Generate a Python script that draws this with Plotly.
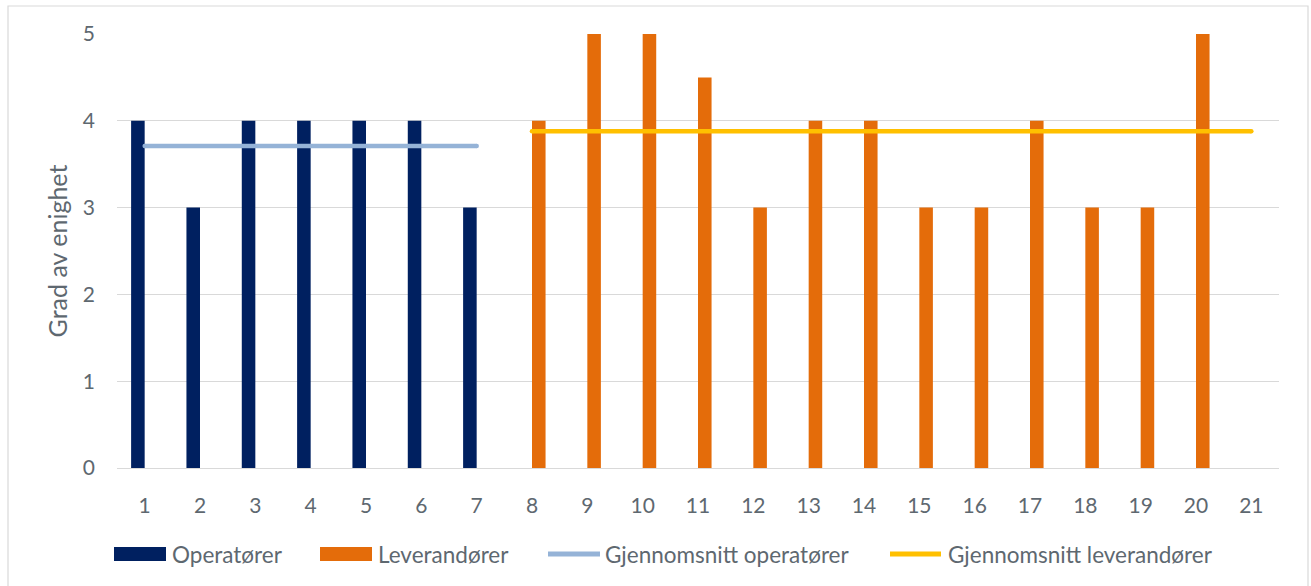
import plotly.graph_objects as go

# Categories (respondent numbers) and scores
categories = list(range(1, 22))
operator_ids = [1, 2, 3, 4, 5, 6, 7]
operator_scores = [4, 3, 4, 4, 4, 4, 3]
supplier_ids = [8, 9, 10, 11, 12, 13, 14, 15, 16, 17, 18, 19, 20]
supplier_scores = [4, 5, 5, 4.5, 3, 4, 4, 3, 3, 4, 3, 3, 5]

# Average lines
avg_operator_ids = [1, 7]
avg_operator = 3.71
avg_supplier_ids = [8, 21]
avg_supplier = 3.88

y_ticks = [0, 1, 2, 3, 4, 5]

NAVY = "#002060"
ORANGE = "#E46C0A"
LIGHTBLUE = "#95B3D7"
YELLOW = "#FFC000"
GRID = "#D9D9D9"
TEXT = "#5E6870"
FONT = "Lato"

W, H = 1311, 586
ML, MR, MT, MB = 117, 32, 34, 118
PW, PH = W - ML - MR, H - MT - MB

# each category holds two bar slots (operators left, suppliers right)
BAR_W = 0.245


def px_x(px):
    return (px - ML) / PW


def px_y(py):
    return (H - MB - py) / PH


fig = go.Figure()
fig.add_trace(go.Bar(x=operator_ids, y=operator_scores, name="Operatører",
                     width=BAR_W, offset=-BAR_W,
                     marker=dict(color=NAVY, line=dict(width=0)), showlegend=False))
fig.add_trace(go.Bar(x=supplier_ids, y=supplier_scores, name="Leverandører",
                     width=BAR_W, offset=0,
                     marker=dict(color=ORANGE, line=dict(width=0)), showlegend=False))
fig.add_trace(go.Scatter(x=avg_operator_ids, y=[avg_operator] * len(avg_operator_ids),
                         mode="lines+markers", name="Gjennomsnitt operatører",
                         line=dict(color=LIGHTBLUE, width=4.5),
                         marker=dict(color=LIGHTBLUE, size=4.5), showlegend=False))
fig.add_trace(go.Scatter(x=avg_supplier_ids, y=[avg_supplier] * len(avg_supplier_ids),
                         mode="lines+markers", name="Gjennomsnitt leverandører",
                         line=dict(color=YELLOW, width=4.5),
                         marker=dict(color=YELLOW, size=4.5), showlegend=False))

shapes = [
    # outer chart border
    dict(type="rect", xref="paper", yref="paper",
         x0=px_x(8), x1=px_x(1308), y0=px_y(592), y1=px_y(6),
         line=dict(color=GRID, width=1.2), fillcolor="rgba(0,0,0,0)", layer="below"),
]
annotations = []

# legend row
legend_y = 554
legend_items = [
    ("rect", NAVY, 114, 166, "Operatører", 170),
    ("rect", ORANGE, 320, 372, "Leverandører", 376),
    ("line", LIGHTBLUE, 548, 600, "Gjennomsnitt operatører", 603),
    ("line", YELLOW, 890, 941, "Gjennomsnitt leverandører", 946),
]
for kind, color, sx0, sx1, label, tx in legend_items:
    if kind == "rect":
        shapes.append(dict(type="rect", xref="paper", yref="paper",
                           x0=px_x(sx0), x1=px_x(sx1),
                           y0=px_y(legend_y + 7), y1=px_y(legend_y - 7),
                           fillcolor=color, line=dict(width=0)))
    else:
        shapes.append(dict(type="line", xref="paper", yref="paper",
                           x0=px_x(sx0), x1=px_x(sx1),
                           y0=px_y(legend_y), y1=px_y(legend_y),
                           line=dict(color=color, width=5)))
    annotations.append(dict(text=label, xref="paper", yref="paper",
                            x=px_x(tx), y=px_y(legend_y), xanchor="left", yanchor="middle",
                            showarrow=False, font=dict(family=FONT, size=22.5, color=TEXT)))

fig.update_layout(
    width=W, height=H,
    margin=dict(l=ML, r=MR, t=MT, b=MB, autoexpand=False),
    paper_bgcolor="white", plot_bgcolor="white",
    barmode="overlay",
    showlegend=False,
    font=dict(family=FONT, size=21, color=TEXT),
    shapes=shapes, annotations=annotations,
    xaxis=dict(range=[0.5, 21.5], tickmode="array", tickvals=categories,
               ticktext=[str(c) for c in categories],
               showgrid=False, zeroline=False, showline=True, linecolor=GRID, linewidth=1.2,
               ticks="", ticklabelstandoff=19,
               tickfont=dict(family=FONT, size=21, color=TEXT)),
    yaxis=dict(range=[0, 5], tickmode="array", tickvals=y_ticks,
               showgrid=True, gridcolor=GRID, gridwidth=1.2, zeroline=False,
               showline=False, ticks="", ticklabelstandoff=21,
               tickfont=dict(family=FONT, size=21, color=TEXT),
               title=dict(text="Grad av enighet", standoff=8,
                          font=dict(family=FONT, size=25, color=TEXT))),
)

fig.write_html("out.html")
